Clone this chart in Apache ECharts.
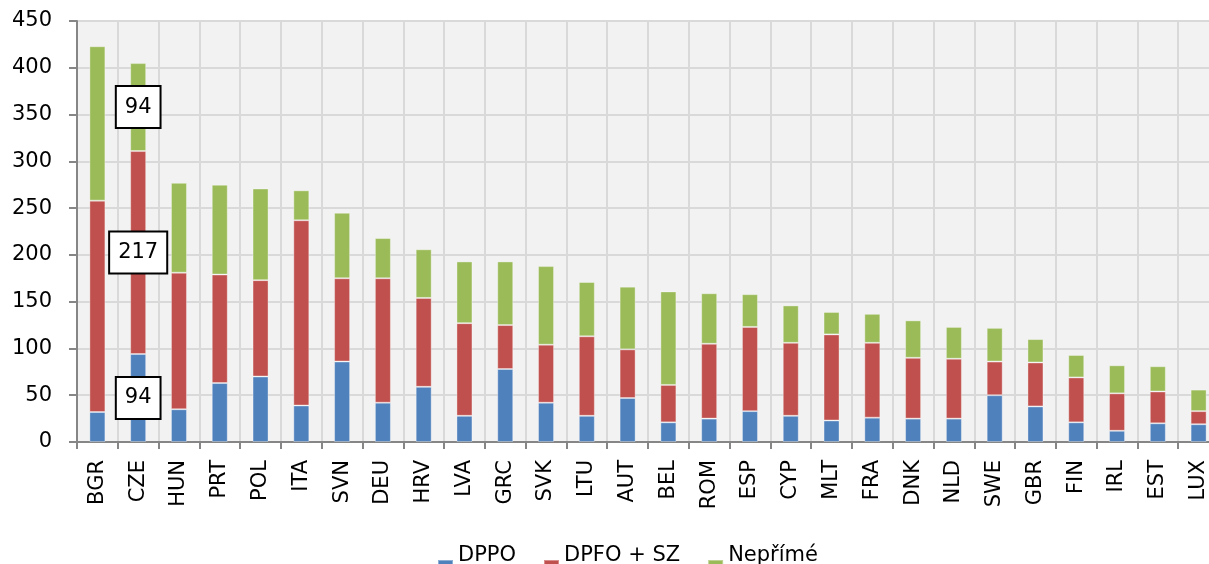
<!DOCTYPE html>
<html>
<head>
<meta charset="utf-8">
<script src="https://cdn.jsdelivr.net/npm/echarts@6/dist/echarts.min.js"></script>
<style>
  html, body { margin: 0; padding: 0; background: #fff; }
  #chart { width: 1209px; height: 564px; }
</style>
</head>
<body>
<div id="chart"></div>
<script>
// data
var countries = ['BGR', 'CZE', 'HUN', 'PRT', 'POL', 'ITA', 'SVN', 'DEU', 'HRV', 'LVA', 'GRC', 'SVK', 'LTU', 'AUT',
  'BEL', 'ROM', 'ESP', 'CYP', 'MLT', 'FRA', 'DNK', 'NLD', 'SWE', 'GBR', 'FIN', 'IRL', 'EST', 'LUX'];
var dppo = [32, 94, 35, 63, 70, 39, 86, 42, 59, 28, 78, 42, 28, 47, 21, 25, 33, 28, 23, 26, 25, 25, 50, 38, 21, 12, 20, 19];
var dpfo = [226, 217, 146, 116, 103, 198, 89, 133, 95, 99, 47, 62, 85, 52, 40, 80, 90, 78, 92, 80, 65, 64, 36, 47, 48, 40, 34, 14];
var neprime = [165, 94, 96, 96, 98, 32, 70, 43, 52, 66, 68, 84, 58, 67, 100, 54, 35, 40, 24, 31, 40, 34, 36, 25, 24, 30, 27, 23];
var yTicks = [0, 50, 100, 150, 200, 250, 300, 350, 400, 450];
var labelled = 'CZE'; // only this bar carries value boxes

var font = 'DejaVu Sans';

// put a boxed value label on the chosen country
function withLabels(arr) {
  return arr.map(function (v, i) {
    if (countries[i] !== labelled) return v;
    return {
      value: v,
      label: {
        show: true,
        position: 'inside',
        formatter: '{c}',
        color: '#000',
        fontFamily: font,
        fontSize: 21,
        backgroundColor: '#fff',
        borderColor: '#000',
        borderWidth: 2,
        padding: [10, 8, 9, 8]
      }
    };
  });
}

var chart = echarts.init(document.getElementById('chart'));

var option = {
  animation: false,
  color: ['#4f81bd', '#c0504d', '#9bbb59'],
  grid: {
    left: 77,
    right: -10,
    top: 21,
    bottom: 122,
    show: true,
    backgroundColor: '#f2f2f2',
    borderWidth: 0,
    outerBoundsMode: 'none'
  },
  legend: {
    top: 536,
    left: 437,
    padding: 0,
    itemWidth: 15,
    itemHeight: 38,
    itemGap: 27,
    // square sits low next to the text, like excel does it (empty move extends the box upward)
    icon: 'path://M0,0 M0,23 L15,23 L15,38 L0,38 Z',
    textStyle: { fontFamily: font, fontSize: 21, color: '#000' },
    data: ['DPPO', 'DPFO + SZ', 'Nepřímé']
  },
  xAxis: {
    type: 'category',
    data: countries,
    axisLine: { lineStyle: { color: '#868686', width: 2 } },
    axisTick: { show: true, length: 7, lineStyle: { color: '#868686', width: 2 } },
    splitLine: { show: true, lineStyle: { color: '#d9d9d9', width: 2 } },
    axisLabel: {
      rotate: 90,
      margin: 18,
      color: '#000',
      fontFamily: font,
      fontSize: 21
    }
  },
  yAxis: {
    type: 'value',
    min: 0,
    max: 450,
    interval: 50,
    axisLine: { show: true, lineStyle: { color: '#868686', width: 2 } },
    axisTick: { show: true, length: 8, lineStyle: { color: '#868686', width: 2 } },
    splitLine: { show: true, lineStyle: { color: '#d9d9d9', width: 2 } },
    axisLabel: {
      margin: 25,
      color: '#000',
      fontFamily: font,
      fontSize: 21,
      formatter: function (v) { return yTicks.indexOf(v) >= 0 ? v : ''; }
    }
  },
  series: [
    { name: 'DPPO', type: 'bar', stack: 'tot', barWidth: 16, data: withLabels(dppo),
      itemStyle: { borderColor: 'rgba(255,255,255,0.35)', borderWidth: 1 } },
    { name: 'DPFO + SZ', type: 'bar', stack: 'tot', barWidth: 16, data: withLabels(dpfo),
      itemStyle: { borderColor: 'rgba(255,255,255,0.35)', borderWidth: 1 } },
    { name: 'Nepřímé', type: 'bar', stack: 'tot', barWidth: 16, data: withLabels(neprime),
      itemStyle: { borderColor: 'rgba(255,255,255,0.35)', borderWidth: 1 } }
  ]
};

chart.setOption(option);
</script>
</body>
</html>
